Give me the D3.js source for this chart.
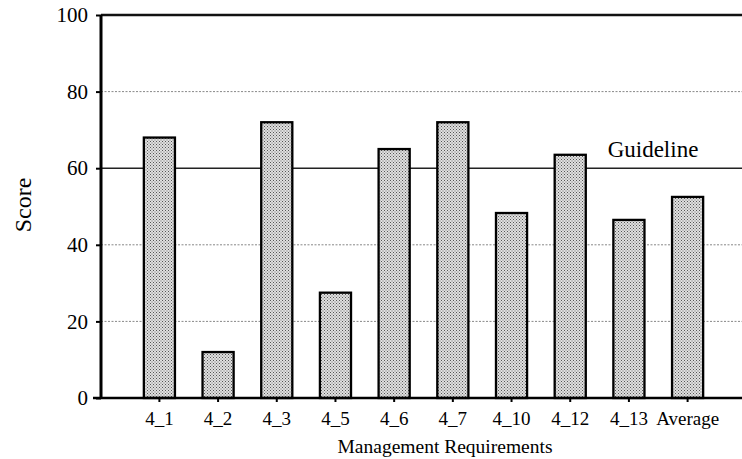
<!DOCTYPE html>
<html>
<head>
<meta charset="utf-8">
<script src="https://cdn.jsdelivr.net/npm/d3@7"></script>
<style>
	body { margin: 0; background: #fff; }
	svg text { font-family: "Liberation Serif", "DejaVu Serif", serif; fill: #000; }
</style>
</head>
<body>
<svg id="chart" width="742" height="459"></svg>
<script>
// values
const categories = ["4_1", "4_2", "4_3", "4_5", "4_6", "4_7", "4_10", "4_12", "4_13", "Average"]
const scores = [68, 12, 72, 27.5, 65, 72, 48.3, 63.5, 46.5, 52.5]
const yTicks = [0, 20, 40, 60, 80, 100]
const gridValues = [20, 40, 80]
const guideline = 60

const svg = d3.select("#chart")
const plotLeft = 101, plotTop = 15, plotBottom = 398, plotRight = 742

const x = d3.scaleBand()
	.domain(categories)
	.range([plotLeft, 746])
	.paddingInner(0.47)
	.paddingOuter(0.73)

const y = d3.scaleLinear()
	.domain([0, 100])
	.range([plotBottom, plotTop])

// stipple texture for bars
const pat = svg.append("defs").append("pattern")
	.attr("id", "stipple")
	.attr("width", 3).attr("height", 3)
	.attr("patternUnits", "userSpaceOnUse")
pat.append("rect").attr("width", 3).attr("height", 3).attr("fill", "#e0e0e0")
pat.append("rect").attr("x", 0).attr("y", 0).attr("width", 1).attr("height", 1).attr("fill", "#555")
pat.append("rect").attr("x", 1.5).attr("y", 1.5).attr("width", 1).attr("height", 1).attr("fill", "#6a6a6a")

// light dotted gridlines
svg.append("g")
	.selectAll("line")
	.data(gridValues)
	.join("line")
		.attr("x1", plotLeft).attr("x2", plotRight)
		.attr("y1", d => y(d)).attr("y2", d => y(d))
		.attr("stroke", "#888")
		.attr("stroke-width", 1)
		.attr("stroke-dasharray", "2,1.5")

// guideline at 60
svg.append("line")
	.attr("x1", plotLeft).attr("x2", plotRight)
	.attr("y1", y(guideline)).attr("y2", y(guideline))
	.attr("stroke", "#222")
	.attr("stroke-width", 1.5)

// top border at 100
svg.append("line")
	.attr("x1", plotLeft).attr("x2", plotRight)
	.attr("y1", y(100)).attr("y2", y(100))
	.attr("stroke", "#111")
	.attr("stroke-width", 2.5)

svg.append("g")
	.selectAll("rect")
	.data(categories)
	.join("rect")
		.attr("x", d => x(d))
		.attr("width", x.bandwidth())
		.attr("y", (d, i) => y(scores[i]))
		.attr("height", (d, i) => plotBottom - y(scores[i]))
		.attr("fill", "url(#stipple)")
		.attr("stroke", "#000")
		.attr("stroke-width", 2.3)

svg.append("text")
	.attr("x", 653).attr("y", 157)
	.attr("text-anchor", "middle")
	.attr("font-size", 23)
	.text("Guideline")

// y axis
const yAxis = svg.append("g")
	.attr("transform", `translate(${plotLeft},0)`)
	.call(d3.axisLeft(y).tickValues(yTicks).tickSize(5).tickPadding(8).tickFormat(d3.format("d")))
yAxis.select(".domain").attr("stroke-width", 3).attr("d", `M0,${plotTop}V${plotBottom}`)
yAxis.selectAll(".tick line").attr("stroke-width", 2)
yAxis.selectAll(".tick text").attr("font-size", 21)

// x axis
const xAxis = svg.append("g")
	.attr("transform", `translate(0,${plotBottom})`)
	.call(d3.axisBottom(x).tickSize(4).tickPadding(10))
xAxis.select(".domain").attr("stroke-width", 2.5).attr("d", `M${plotLeft - 8},0H${plotRight}`)
xAxis.selectAll(".tick line").attr("stroke-width", 2)
xAxis.selectAll(".tick text").attr("font-size", 19)

svg.append("text")
	.attr("x", 445).attr("y", 453)
	.attr("text-anchor", "middle")
	.attr("font-size", 19.5)
	.text("Management Requirements")

svg.append("text")
	.attr("transform", "translate(31,205) rotate(-90)")
	.attr("text-anchor", "middle")
	.attr("font-size", 24)
	.text("Score")
</script>
</body>
</html>
